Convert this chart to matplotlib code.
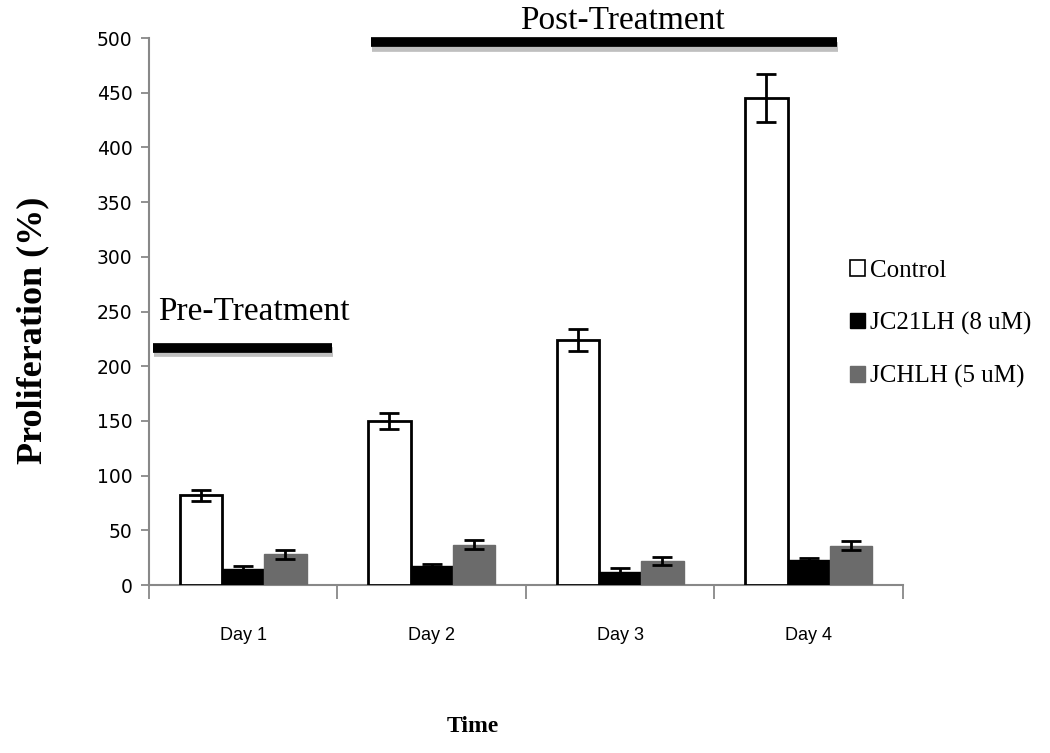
import numpy as np
import matplotlib.pyplot as plt
import matplotlib.patheffects as pe
from matplotlib.patches import Patch

days = ['Day 1', 'Day 2', 'Day 3', 'Day 4']
series = ['Control', 'JC21LH (8 uM)', 'JCHLH (5 uM)']
control = [82, 150, 224, 445]
control_err = [5, 7, 10, 22]
jc21lh = [15, 17, 12, 23]
jc21lh_err = [2, 2, 4, 2]
jchlh = [28, 37, 22, 36]
jchlh_err = [4, 4, 4, 4]

fig = plt.figure(figsize=(10.5, 7.53), dpi=100)
ax = fig.add_axes([0.1419, 0.2231, 0.718, 0.7264])

x = np.arange(len(days))
w = 0.224
err_kw = dict(ecolor='black', elinewidth=2, capsize=7, capthick=2)
ax.bar(x - w, control, w, yerr=control_err, color='white', edgecolor='black',
       linewidth=2, error_kw=err_kw, zorder=3)
ax.bar(x, jc21lh, w, yerr=jc21lh_err, color='black', edgecolor='black',
       linewidth=1, error_kw=err_kw, zorder=3)
ax.bar(x + w, jchlh, w, yerr=jchlh_err, color='#6b6b6b', edgecolor='#6b6b6b',
       linewidth=1, error_kw=err_kw, zorder=3)

ax.set_xlim(-0.5, 3.5)
ax.set_ylim(0, 500)
ax.set_yticks(np.arange(0, 501, 50))
ax.set_xticks(np.arange(-0.5, 3.6, 1))
ax.set_xticklabels([])
ax.set_xticks(x, minor=True)
ax.set_xticklabels(days, minor=True, fontsize=13, family='Liberation Sans')
ax.tick_params(axis='x', which='major', length=10, width=1.3, color='#888888', direction='out')
ax.tick_params(axis='x', which='minor', length=0, pad=30)
ax.tick_params(axis='y', length=6, width=1.3, color='#888888', labelsize=13.5, pad=6)

for s in ['top', 'right']:
    ax.spines[s].set_visible(False)
for s in ['left', 'bottom']:
    ax.spines[s].set_color('#888888')
    ax.spines[s].set_linewidth(1.5)

# axis titles
fig.text(0.031, 0.562, 'Proliferation (%)', family='Liberation Serif', fontsize=26,
         fontweight='bold', rotation=90, ha='center', va='center')
fig.text(0.45, 0.035, 'Time', family='Liberation Serif', fontsize=17,
         fontweight='bold', ha='center', va='center')

# treatment bars
shadow = [pe.SimpleLineShadow(offset=(1, -3), alpha=0.25), pe.Normal()]
ax.plot([0.676, 3.149], [496, 496], color='black', lw=7, solid_capstyle='butt',
        clip_on=False, path_effects=shadow, zorder=5)
ax.text(2.01, 502, 'Post-Treatment', family='Liberation Serif', fontsize=24,
        ha='center', va='bottom')
ax.plot([-0.48, 0.47], [217, 217], color='black', lw=7, solid_capstyle='butt',
        clip_on=False, path_effects=shadow, zorder=5)
ax.text(-0.45, 236, 'Pre-Treatment', family='Liberation Serif', fontsize=24,
        ha='left', va='bottom')

handles = [Patch(facecolor='white', edgecolor='black', linewidth=1.2),
           Patch(facecolor='black', edgecolor='black'),
           Patch(facecolor='#6b6b6b', edgecolor='#6b6b6b')]
fig.legend(handles, series, loc='center left', bbox_to_anchor=(0.788, 0.57),
           frameon=False, prop={'family': 'Liberation Serif', 'size': 18},
           handlelength=0.6, handleheight=0.6, handletextpad=0.2,
           labelspacing=1.2)

fig.savefig('out.png', dpi=100)
